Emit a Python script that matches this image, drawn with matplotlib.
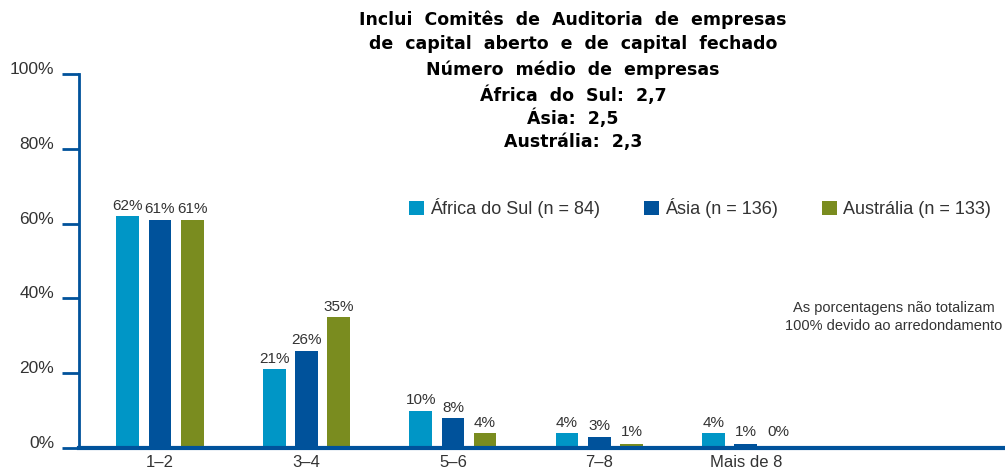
import matplotlib
matplotlib.use("Agg")
import matplotlib.pyplot as plt
from matplotlib.transforms import ScaledTranslation
import numpy as np

categories = ["1–2", "3–4", "5–6", "7–8", "Mais de 8"]
series_names = ["África do Sul (n = 84)", "Ásia (n = 136)", "Austrália (n = 133)"]
africa = [62, 21, 10, 4, 4]
asia = [61, 26, 8, 3, 1]
australia = [61, 35, 4, 1, 0.4]
yticks = [0, 20, 40, 60, 80, 100]
ytick_labels = ["0%", "20%", "40%", "60%", "80%", "100%"]
title_lines = ["Inclui Comitês de Auditoria de empresas",
               "de capital aberto e de capital fechado",
               "Número médio de empresas",
               "África do Sul: 2,7",
               "Ásia: 2,5",
               "Austrália: 2,3"]
note = "As porcentagens não totalizam\n100% devido ao arredondamento"

colors = ["#0096C6", "#00529B", "#7A8C1F"]
text_color = "#333333"
axis_color = "#00529B"

plt.rcParams['font.family'] = ['Liberation Sans', 'DejaVu Sans']

fig = plt.figure(figsize=(10.05, 4.70), dpi=100)
W, H = 1005, 470
ax = fig.add_axes([79 / W, (H - 448) / H, (W - 79) / W, (448 - 74) / H])

x = np.arange(len(categories))
width = 0.155
offset = 0.22
for i, (vals, name) in enumerate(zip([africa, asia, australia], series_names)):
    bars = ax.bar(x + (i - 1) * offset, vals, width, color=colors[i], label=name)
    for b, v in zip(bars, vals):
        ax.text(b.get_x() + b.get_width() / 2, max(b.get_height(), 1.5) + 0.9, f"{v:.0f}%",
                ha="center", va="bottom", fontsize=11, color=text_color)

ax.set_xlim(-0.553, 5.77)
ax.set_ylim(0, 100)
ax.set_yticks(yticks)
ax.set_yticklabels(ytick_labels, fontsize=12.5, color=text_color)
ax.set_xticks(x)
ax.set_xticklabels(categories, fontsize=12, color=text_color)
ax.tick_params(axis="y", direction="out", length=12, width=2, color=axis_color, pad=6)
ax.tick_params(axis="x", length=0, pad=5)
for lab in ax.get_yticklabels():
    lab.set_transform(lab.get_transform() + ScaledTranslation(0, 0.06, fig.dpi_scale_trans))
for s in ["top", "right"]:
    ax.spines[s].set_visible(False)
ax.spines["left"].set_color(axis_color)
ax.spines["left"].set_linewidth(2)
ax.spines["bottom"].set_color(axis_color)
ax.spines["bottom"].set_linewidth(3)
ax.patch.set_alpha(0)

ys = [20, 44, 70, 95, 118, 142]
for t, yp in zip(title_lines, ys):
    fig.text(573 / W, 1 - yp / H, t.replace(" ", "  "), ha="center", va="center", fontsize=12.5,
             fontweight="bold", color="black", family=['DejaVu Sans'])

leg = ax.legend(loc="upper left", bbox_to_anchor=(409 / W, 1 - 198 / H),
                bbox_transform=fig.transFigure, ncol=3, frameon=False,
                handlelength=0.85, handleheight=0.85, handletextpad=0.3,
                columnspacing=2.45, fontsize=13, borderpad=0, borderaxespad=0)
for t in leg.get_texts():
    t.set_color(text_color)

fig.text(894 / W, 1 - 317 / H, note, ha="center", va="center", fontsize=10.5,
         color=text_color, linespacing=1.35)

fig.savefig("out.png", dpi=100)
